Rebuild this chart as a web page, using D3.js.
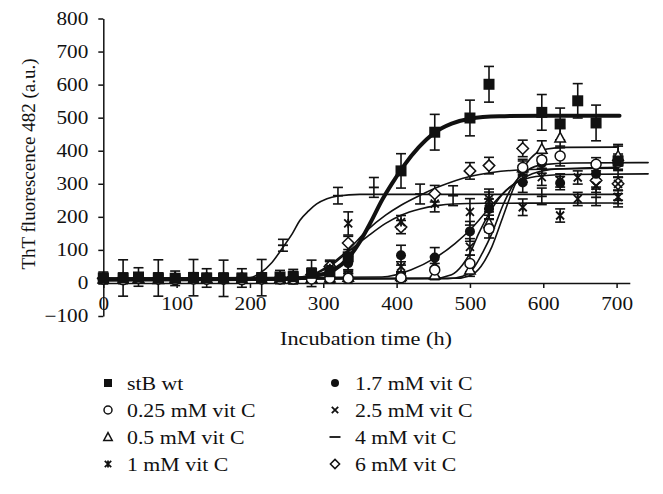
<!DOCTYPE html>
<html><head><meta charset="utf-8">
<script src="https://cdn.jsdelivr.net/npm/d3@7"></script>
<style>
html,body{margin:0;padding:0;background:#fff;}
svg{display:block;}
text{font-family:"Liberation Serif","Times New Roman",serif;fill:#111;}
</style></head><body>
<svg id="chart" width="663" height="494"></svg>
<script>
// ---------- data ----------
const yTicks = [-100, 0, 100, 200, 300, 400, 500, 600, 700, 800];
const xTicks = [0, 100, 200, 300, 400, 500, 600, 700];
const xTitle = "Incubation time (h)";
const yTitle = "ThT fluorescence 482 (a.u.)";
const seriesNames = ["stB wt", "0.25 mM vit C", "0.5 mM vit C", "1 mM vit C",
                     "1.7 mM vit C", "2.5 mM vit C", "4 mM vit C", "6 mM vit C"];

const T = [0, 27, 48, 75, 98, 123, 141, 164, 189, 216, 241, 259, 284, 309, 334, 406, 452, 500, 526, 572, 598, 623, 647, 672, 702];

const stbV = [15, 15, 18, 15, 14, 16, 15, 14, 15, 16, 18, 19, 29, 34, 79, 339, 456, 499, 601, null, 516, 481, 551, 484, 369];
const stbE = [18, 55, 28, 55, 22, 55, 28, 55, 28, 55, 20, 22, 40, 35, 40, 52, 54, 54, 54, null, 54, 48, 52, 54, 50];

const c025V = [12, 10, 14, 12, 10, 12, 11, 12, 10, 12, 12, 12, 12, 14, 14, 16, 39, 59, 164, 349, 372, 384, null, 359, 365];
const c025E = [10, 12, 10, 12, 10, 12, 10, 12, 10, 12, 10, 12, 12, 12, 15, 12, 20, 25, 28, 25, 25, 30, null, 20, 25];

const c05V = [13, 12, 15, 11, 13, 12, 14, 12, 13, 12, 14, 13, 15, 16, 18, 20, 25, 40, 180, 349, 405, 439, null, null, 384];
const c05E = [8, 10, 8, 10, 8, 10, 8, 10, 8, 10, 8, 10, 10, 10, 10, 12, 15, 20, 25, 20, 25, 30, null, null, 30];

const c1V = [15, 14, 16, 15, 13, 16, 15, 14, 16, 15, 17, 20, 30, 45, 180, 184, 240, 215, 245, 229, null, 204, 254, null, 260];
const c1E = [12, 15, 12, 15, 12, 15, 12, 15, 12, 15, 12, 15, 15, 20, 35, 20, 25, 40, 30, 25, null, 20, 20, null, 20];

const c17V = [14, 13, 15, 14, 12, 15, 14, 13, 15, 14, 16, 18, 22, 40, 60, 84, 77, 156, 224, 304, 362, 302, null, 330, 364];
const c17E = [10, 12, 10, 12, 10, 12, 10, 12, 10, 12, 10, 12, 14, 15, 20, 30, 30, 30, 30, 30, 30, 20, null, 20, 20];

const c25V = [12, 12, 13, 12, 12, 13, 12, 12, 13, 12, 13, 14, 16, 20, 22, 49, 60, 109, 254, 330, 320, 310, 319, 294, 300];
const c25E = [8, 10, 8, 10, 8, 10, 8, 10, 8, 10, 8, 10, 10, 10, 12, 15, 20, 25, 30, 25, 25, 20, 20, 20, 20];

const c4T = [0, 27, 48, 75, 98, 123, 141, 164, 189, 216, 245, 320, 369, 432, 477, 598, 672, 702];
const c4V = [16, 15, 17, 15, 16, 15, 17, 15, 16, 15, 114, 264, 289, 269, 264, 262, 259, 250];
const c4E = [12, 15, 12, 15, 12, 15, 12, 15, 12, 15, 18, 25, 30, 30, 30, 25, 25, 20];

const c6V = [14, 14, 15, 13, 14, 15, 14, 13, 15, 14, 15, 17, 25, 50, 121, 169, 270, 339, 355, 407, null, null, null, 310, 300];
const c6E = [10, 12, 10, 12, 10, 12, 10, 12, 10, 12, 10, 12, 12, 15, 20, 20, 25, 25, 25, 25, null, null, null, 20, 20];

// fitted curves as [time, value]
const stbFit = [[0,10],[250,12],[290,22],[315,40],[334,75],[350,125],[365,185],[380,250],[395,305],[410,355],[430,410],[452,455],[475,482],[500,497],[540,504],[600,506],[704,506]];
const c025Fit = [[0,11],[470,13],[490,20],[505,45],[518,95],[530,150],[545,235],[560,300],[578,340],[600,358],[640,363],[743,364]];
const c05Fit = [[0,12],[480,14],[500,22],[515,50],[530,110],[545,200],[560,290],[575,355],[590,392],[605,405],[630,410],[700,411]];
const c1Fit = [[0,14],[270,16],[290,28],[309,50],[334,95],[360,140],[385,180],[406,205],[432,224],[455,234],[477,239],[520,241],[700,242]];
const c17Fit = [[0,13],[380,18],[420,40],[452,75],[480,120],[500,160],[520,210],[540,260],[560,300],[585,330],[620,345],[700,350]];
const c25Fit = [[0,12],[450,14],[475,25],[490,55],[500,90],[512,150],[526,210],[545,270],[565,305],[590,322],[630,328],[743,330]];
const c4Fit = [[0,14],[200,16],[214,30],[230,62],[245,108],[258,150],[268,189],[280,218],[291,239],[305,255],[320,263],[350,268],[700,268]];
const c6Fit = [[0,14],[270,16],[290,30],[309,55],[334,100],[360,160],[385,205],[406,235],[432,265],[460,293],[500,322],[530,334],[580,343],[700,347]];

// ---------- build ----------
const series = [
  {name: seriesNames[0], t: T,   v: stbV,  e: stbE,  fit: stbFit,  mk: "square",   lw: 4},
  {name: seriesNames[1], t: T,   v: c025V, e: c025E, fit: c025Fit, mk: "circle",   lw: 1.6},
  {name: seriesNames[2], t: T,   v: c05V,  e: c05E,  fit: c05Fit,  mk: "triangle", lw: 1.6},
  {name: seriesNames[3], t: T,   v: c1V,   e: c1E,   fit: c1Fit,   mk: "asterisk", lw: 1.6},
  {name: seriesNames[4], t: T,   v: c17V,  e: c17E,  fit: c17Fit,  mk: "fcircle",  lw: 1.6},
  {name: seriesNames[5], t: T,   v: c25V,  e: c25E,  fit: c25Fit,  mk: "x",        lw: 1.6},
  {name: seriesNames[6], t: c4T, v: c4V,   e: c4E,   fit: c4Fit,   mk: "dash",     lw: 1.6},
  {name: seriesNames[7], t: T,   v: c6V,   e: c6E,   fit: c6Fit,   mk: "diamond",  lw: 1.6}
];

const svg = d3.select("#chart");
const x = d3.scaleLinear().domain([0, 718]).range([103.3, 629.8]);
const y = d3.scaleLinear().domain([-100, 800]).range([316, 18.5]);
const STRETCH = 1.18;

// axes
const yAx = svg.append("g").attr("transform", `translate(${x(0)},0)`)
  .call(d3.axisLeft(y).tickValues(yTicks).tickSize(5).tickSizeOuter(0).tickPadding(10));
const xAx = svg.append("g").attr("transform", `translate(0,${y(0)})`)
  .call(d3.axisBottom(x).tickValues(xTicks).tickSize(5).tickSizeOuter(0).tickPadding(9));
[yAx, xAx].forEach(a => {
  a.selectAll("path,line").attr("stroke", "#111").attr("stroke-width", 1.5);
  a.selectAll("text").attr("font-family", '"Liberation Serif", serif').attr("font-size", 18).attr("fill", "#111").classed("hz", true);
});

svg.append("text").attr("x", 366).attr("y", 345).attr("text-anchor", "middle")
  .attr("font-size", 19.5).attr("textLength", 172).attr("lengthAdjust", "spacingAndGlyphs").text(xTitle);
svg.append("text").attr("transform", "translate(35,164) rotate(-90)").attr("text-anchor", "middle")
  .attr("font-size", 19).text(yTitle);

// markers
function marker(g, type, s) {
  const h = s / 2;
  if (type === "square") g.append("rect").attr("x", -h).attr("y", -h).attr("width", s).attr("height", s).attr("fill", "#111");
  else if (type === "circle") g.append("circle").attr("r", h).attr("fill", "#fff").attr("stroke", "#111").attr("stroke-width", 1.5);
  else if (type === "fcircle") g.append("circle").attr("r", h).attr("fill", "#111");
  else if (type === "triangle") g.append("path").attr("d", `M0,${-h*1.1}L${h*1.05},${h*0.85}L${-h*1.05},${h*0.85}Z`).attr("fill", "#fff").attr("stroke", "#111").attr("stroke-width", 1.5);
  else if (type === "diamond") g.append("path").attr("d", `M0,${-h*1.15}L${h*1.15},0L0,${h*1.15}L${-h*1.15},0Z`).attr("fill", "#fff").attr("stroke", "#111").attr("stroke-width", 1.5);
  else if (type === "x") { const a = h*0.8; g.append("path").attr("d", `M${-a},${-a}L${a},${a}M${-a},${a}L${a},${-a}`).attr("stroke", "#111").attr("stroke-width", 1.8).attr("fill", "none"); }
  else if (type === "asterisk") { const a = h*0.8; g.append("path").attr("d", `M${-a},${-a}L${a},${a}M${-a},${a}L${a},${-a}M0,${-a*1.1}L0,${a*1.1}`).attr("stroke", "#111").attr("stroke-width", 1.8).attr("fill", "none"); }
  else if (type === "dash") g.append("path").attr("d", `M${-h},0L${h},0`).attr("stroke", "#111").attr("stroke-width", 1.8);
}

const line = d3.line().x(d => x(d[0])).y(d => y(d[1])).curve(d3.curveMonotoneX);
const plot = svg.append("g");

// fitted curves
series.forEach(s => {
  plot.append("path").attr("d", line(s.fit)).attr("fill", "none").attr("stroke", "#111")
    .attr("stroke-width", s.lw).attr("stroke-linejoin", "round").attr("stroke-linecap", "round");
});

// error bars
series.forEach(s => {
  s.t.forEach((t, i) => {
    const v = s.v[i], e = s.e[i];
    if (v == null || !e) return;
    const cx = x(t), y1 = y(v - e), y2 = y(v + e);
    const g = plot.append("g").attr("stroke", "#111").attr("stroke-width", 1.6);
    g.append("line").attr("x1", cx).attr("x2", cx).attr("y1", y1).attr("y2", y2);
    g.append("line").attr("x1", cx - 5).attr("x2", cx + 5).attr("y1", y1).attr("y2", y1);
    g.append("line").attr("x1", cx - 5).attr("x2", cx + 5).attr("y1", y2).attr("y2", y2);
  });
});

// points (stB wt drawn last so its filled squares sit on top)
series.slice().reverse().forEach(s => {
  s.t.forEach((t, i) => {
    const v = s.v[i];
    if (v == null) return;
    const g = plot.append("g").attr("transform", `translate(${x(t)},${y(v)})`);
    marker(g, s.mk, s.mk === "square" ? 11 : 10);
  });
});

// legend
const legRows = [390, 417, 444, 471];
series.forEach((s, i) => {
  const col = i < 4 ? 0 : 1, row = i % 4;
  const mx = col === 0 ? 108 : 335, tx = col === 0 ? 127 : 355;
  const g = svg.append("g").attr("transform", `translate(${mx},${legRows[row] - 7})`);
  marker(g, s.mk, s.mk === "dash" ? 11 : 8);
  svg.append("text").attr("x", tx).attr("y", legRows[row]).attr("font-size", 18.5).classed("hz", true).text(s.name);
});

// horizontal stretch of horizontal texts to match the reference's proportions
svg.selectAll("text.hz").each(function() {
  const w = this.getComputedTextLength();
  d3.select(this).attr("textLength", w * STRETCH).attr("lengthAdjust", "spacingAndGlyphs");
});
</script>
</body></html>
